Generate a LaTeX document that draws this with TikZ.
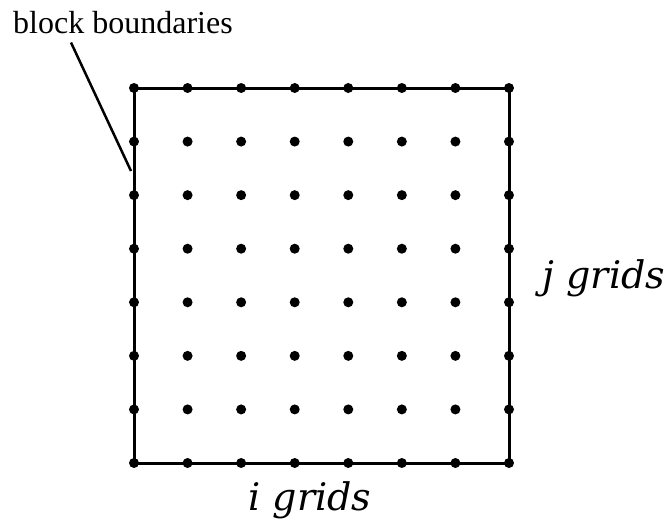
\documentclass[tikz,border=0pt]{standalone}
\usepackage{fontspec}
\setmainfont{Liberation Serif}
\newfontfamily\gridfont{DejaVu Serif}
\usepackage{tikz}
\usetikzlibrary{calc,positioning}

\begin{document}
\begin{tikzpicture}[x=1pt,y=-1pt,
  blk/.style={draw=black,line width=3pt,minimum size=375pt,inner sep=0pt},
  pt/.style={fill=black},
  lab/.style={font=\fontsize{32}{36}\selectfont,inner sep=0pt,anchor=base west},
  gr/.style={font=\gridfont\itshape\fontsize{38}{42}\selectfont,inner sep=0pt,anchor=base}]
\useasboundingbox (0,0) rectangle (671,525);

% ---------- the block and its grid points ----------
\node[blk] (box) at (321.5,275.5) {};
\foreach \i in {0,...,7}
  \foreach \j in {0,...,7}
    \fill[pt] (134+53.57*\i,88+53.57*\j) circle (5);

% ---------- labels ----------
\node[lab] (bnd) at (13,33) {block boundaries};
\coordinate (tip) at (131,171);
\draw[line width=2.5pt] ([xshift=58pt,yshift=-9pt]bnd.south west) -- (tip);
\node[gr] (jg) at (604,288) {j grids};
\node[gr] (ig) at (310,510) {i grids};
\end{tikzpicture}
\end{document}
